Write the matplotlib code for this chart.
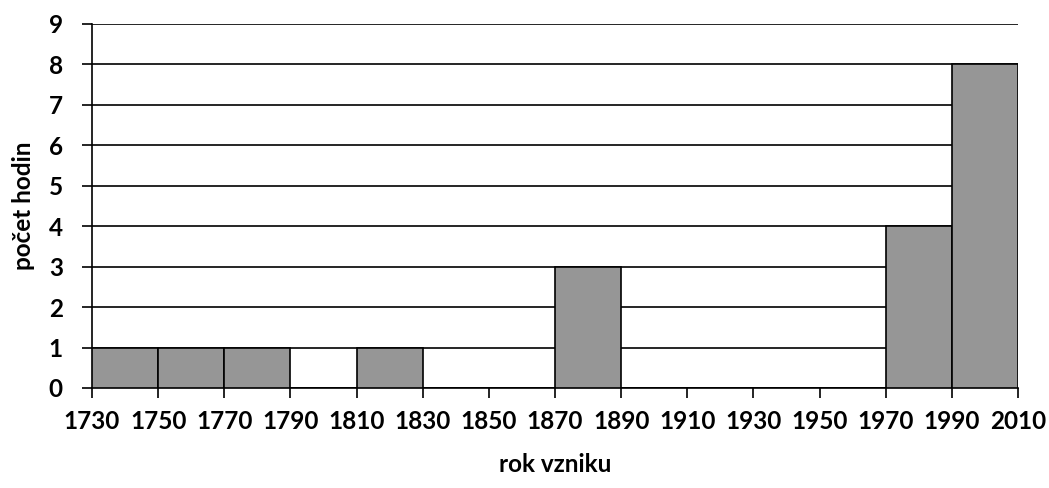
import numpy as np
import matplotlib
matplotlib.use("Agg")
import matplotlib.pyplot as plt

plt.rcParams['font.family'] = ['Lato', 'DejaVu Sans']
plt.rcParams['font.weight'] = 'bold'

# bin edges (rok vzniku) and counts (počet hodin)
bin_edges = [1730, 1750, 1770, 1790, 1810, 1830, 1850, 1870, 1890,
             1910, 1930, 1950, 1970, 1990, 2010]
counts = [1, 1, 1, 0, 1, 0, 0, 3, 0, 0, 0, 0, 4, 8]

fig = plt.figure(figsize=(10.49, 4.88), dpi=100)
ax = fig.add_axes([0.0877, 0.205, 0.8828, 0.746])

widths = np.diff(bin_edges)
ax.bar(bin_edges[:-1], counts, width=widths, align='edge',
       color='#969696', edgecolor='black', linewidth=1.2, zorder=3)

ax.set_xlim(bin_edges[0], bin_edges[-1])
ax.set_ylim(0, 9)
ax.set_xticks(bin_edges)
ax.set_yticks(range(10))
ax.yaxis.grid(True, color='black', linewidth=1.2, zorder=0)
ax.set_axisbelow(True)

for s in ['top', 'right']:
    ax.spines[s].set_visible(False)
ax.spines['left'].set_linewidth(1.2)
ax.spines['bottom'].set_linewidth(1.2)
ax.tick_params(axis='both', length=7, width=1.2, labelsize=17.5)
ax.tick_params(axis='x', pad=9)
ax.tick_params(axis='y', pad=14)

ax.set_xlabel('rok vzniku', fontsize=17.5, fontweight='bold', labelpad=14)
ax.set_ylabel('počet hodin', fontsize=17.5, fontweight='bold', labelpad=10)

fig.savefig('out.png', dpi=100)
